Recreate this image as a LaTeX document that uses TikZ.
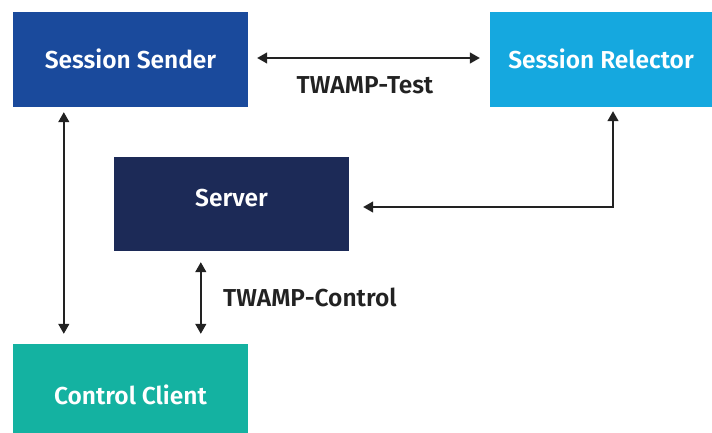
\documentclass[tikz,border=0pt]{standalone}
\usepackage{fontspec}
\setmainfont{Fira Sans}[UprightFont={* SemiBold}]
\usetikzlibrary{arrows.meta,calc}
\definecolor{senderblue}{HTML}{1A4A9C}
\definecolor{reflectblue}{HTML}{15A8DF}
\definecolor{servernavy}{HTML}{1C2A57}
\definecolor{clientteal}{HTML}{14B2A1}
\definecolor{ink}{HTML}{222222}
\begin{document}
\begin{tikzpicture}[x=1pt,y=-1pt,
  box/.style={draw=none, minimum width=235pt, minimum height=95pt, inner sep=0pt},
  boxtext/.style={text=white, font=\fontsize{24.5}{28}\selectfont, inner sep=0pt},
  link/.style={draw=ink, line width=1.4pt,
    {Triangle[length=10pt,width=11pt]}-{Triangle[length=10pt,width=11pt]}},
  tag/.style={text=ink, font=\fontsize{24.5}{28}\selectfont, inner sep=0pt}]
  \useasboundingbox (0,0) rectangle (712,433);
  % the four roles
  \node[box, fill=senderblue] (sender) at (130.5,59.5) {};
  \node[box, fill=reflectblue, minimum width=222pt] (reflector) at (601,59.5) {};
  \node[box, fill=servernavy, minimum height=94pt] (server) at (231.5,204) {};
  \node[box, fill=clientteal, minimum height=89pt] (client) at (130.5,388.5) {};
  \node[boxtext] (sendertext) at ([yshift=1pt]sender.center) {Session Sender};
  \node[boxtext] (reflectortext) at ([yshift=1pt]reflector.center) {Session Relector};
  \node[boxtext] (servertext) at ([yshift=6pt]server.center) {Server};
  \node[boxtext] (clienttext) at ([yshift=-6.5pt]client.center) {Control Client};
  % links between them
  \draw[link, shorten <=9pt, shorten >=10pt]
    ([yshift=1.5pt]sender.east) -- ([yshift=1.5pt]reflector.west);
  \node[tag] (test) at (365,85) {TWAMP-Test};
  \draw[link, shorten <=5pt, shorten >=10pt]
    ([xshift=51pt]sender.south west) -- ([xshift=51pt]client.north west);
  \draw[link, shorten <=11pt, shorten >=10pt]
    ([xshift=87pt]server.south west) -- ([xshift=188pt]client.north west);
  \node[tag, anchor=west] (control) at (223,297) {TWAMP-Control};
  \draw[link, shorten <=14pt, shorten >=4pt]
    ([yshift=-3pt]server.east) -| ([xshift=12pt]reflector.south);
\end{tikzpicture}
\end{document}
